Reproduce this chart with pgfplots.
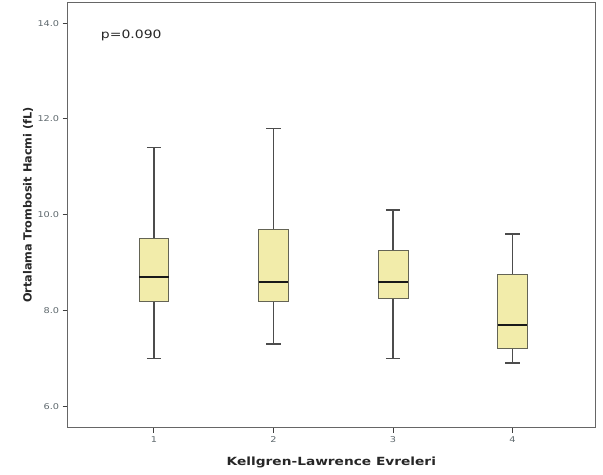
\documentclass[border=0pt]{standalone}
\usepackage{pgfplots}
\pgfplotsset{compat=1.18}
\usepgfplotslibrary{statistics}
\usepackage{fontspec}
\setmainfont{DejaVu Sans}
\definecolor{boxfill}{RGB}{242,236,170}
\definecolor{boxedge}{RGB}{100,100,85}
\definecolor{ticklab}{RGB}{95,105,110}
\newcommand{\wide}[1]{\scalebox{1.22}[1]{#1}}
\begin{document}
\begin{tikzpicture}
\useasboundingbox (0,0) rectangle (603bp,475bp);
\begin{axis}[
  at={(67.7bp,47.3bp)}, anchor=south west,
  scale only axis, width=527.3bp, height=424.7bp,
  xmin=0.278, xmax=4.69, ymin=5.555, ymax=14.42,
  xtick={1,2,3,4}, ytick={6,8,10,12,14},
  xticklabels={\wide{1},\wide{2},\wide{3},\wide{4}},
  yticklabels={\wide{6.0},\wide{8.0},\wide{10.0},\wide{12.0},\wide{14.0}},
  tick align=outside, tick pos=left,
  major tick length=5bp,
  every tick/.style={line width=1bp, color=black!75},
  tick label style={font=\fontsize{8}{9}\selectfont, color=ticklab},
  axis line style={line width=1bp, color=black!60},
  xlabel={\wide{\bfseries Kellgren-Lawrence Evreleri}},
  ylabel={\bfseries Ortalama Trombosit Hacmi (fL)},
  label style={font=\fontsize{11.3}{13}\selectfont, color=black!85},
  xlabel style={at={(axis description cs:0.5,-0.081)}, anchor=center},
  ylabel style={at={(axis description cs:-0.075,0.524)}, anchor=center},
  boxplot/draw direction=y,
  boxplot/box extend=0.25,
  boxplot/whisker extend=0.12,
  boxplot/every box/.style={draw=boxedge, fill=boxfill, line width=0.9bp},
  boxplot/every median/.style={draw=black!90, line width=2bp},
  boxplot/every whisker/.style={draw=black!70, line width=1.6bp},
]
\addplot+[mark=none, draw=black!70, line width=1.6bp, boxplot prepared={lower whisker=7.0, lower quartile=8.2, median=8.7, upper quartile=9.5, upper whisker=11.4, draw position=1}] coordinates {};
\addplot+[mark=none, draw=black!70, line width=1.6bp, boxplot prepared={lower whisker=7.3, lower quartile=8.2, median=8.6, upper quartile=9.7, upper whisker=11.8, draw position=2}] coordinates {};
\addplot+[mark=none, draw=black!70, line width=1.6bp, boxplot prepared={lower whisker=7.0, lower quartile=8.25, median=8.6, upper quartile=9.25, upper whisker=10.1, draw position=3}] coordinates {};
\addplot+[mark=none, draw=black!70, line width=1.6bp, boxplot prepared={lower whisker=6.9, lower quartile=7.2, median=7.7, upper quartile=8.75, upper whisker=9.6, draw position=4}] coordinates {};
\node[font=\fontsize{11.5}{13}\selectfont, color=black!85] at (axis cs:0.81,13.74) {\wide{p=0.090}};
\end{axis}
\end{tikzpicture}
\end{document}
